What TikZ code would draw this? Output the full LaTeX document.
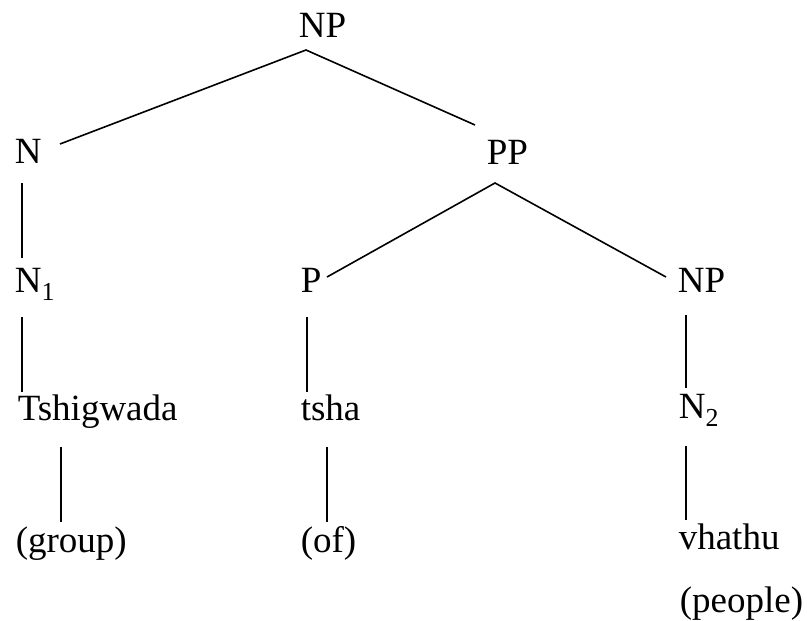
\documentclass[tikz,border=0pt]{standalone}
\usepackage{fontspec}
\setmainfont{Liberation Serif}

\begin{document}
\begin{tikzpicture}[x=1pt, y=-1pt, line width=1.6pt,
    word/.style={anchor=base west, inner sep=0pt, font=\fontsize{37}{42}\selectfont}]
      \useasboundingbox (0, 0) rectangle (807, 621);
      % labels, placed at their base lines
      \node[word] (np)  at (298, 37)  {NP};
      \node[word] (n)   at (14, 163)  {N};
      \node[word] (pp)  at (486, 164) {PP};
      \node[word] (na)  at (14, 292)  {N\textsubscript{1}};
      \node[word] (p)   at (300, 292) {P};
      \node[word] (npb) at (677, 292) {NP};
      \node[word] (tsh) at (17, 420)  {Tshigwada};
      \node[word] (tsa) at (300, 420) {tsha};
      \node[word] (nb)  at (678, 418) {N\textsubscript{2}};
      \node[word] (grp) at (15, 552)  {(group)};
      \node[word] (of)  at (300, 552) {(of)};
      \node[word] (vh)  at (678, 549) {vhathu};
      \node[word] (ppl) at (679, 612) {(people)};
      % branches
      \draw ([shift={(46,-19)}]n.base west) -- ([shift={(8,13)}]np.base west)
            -- ([shift={(-11,-39)}]pp.base west);
      \draw ([shift={(27,-15)}]p.base west) -- ([shift={(9,19)}]pp.base west)
            -- ([shift={(-11,-15)}]npb.base west);
      \draw ([shift={(8,20)}]n.base west) -- ([shift={(8,-34)}]na.base west);
      \draw ([shift={(8,25)}]na.base west) -- ([shift={(5,-28)}]tsh.base west);
      \draw ([shift={(7,25)}]p.base west) -- ([shift={(7,-28)}]tsa.base west);
      \draw ([shift={(9,23)}]npb.base west) -- ([shift={(8,-30)}]nb.base west);
      \draw ([shift={(44,27)}]tsh.base west) -- ([shift={(46,-30)}]grp.base west);
      \draw ([shift={(27,27)}]tsa.base west) -- ([shift={(27,-30)}]of.base west);
      \draw ([shift={(8,28)}]nb.base west) -- ([shift={(8,-29)}]vh.base west);
    \end{tikzpicture}
\end{document}
